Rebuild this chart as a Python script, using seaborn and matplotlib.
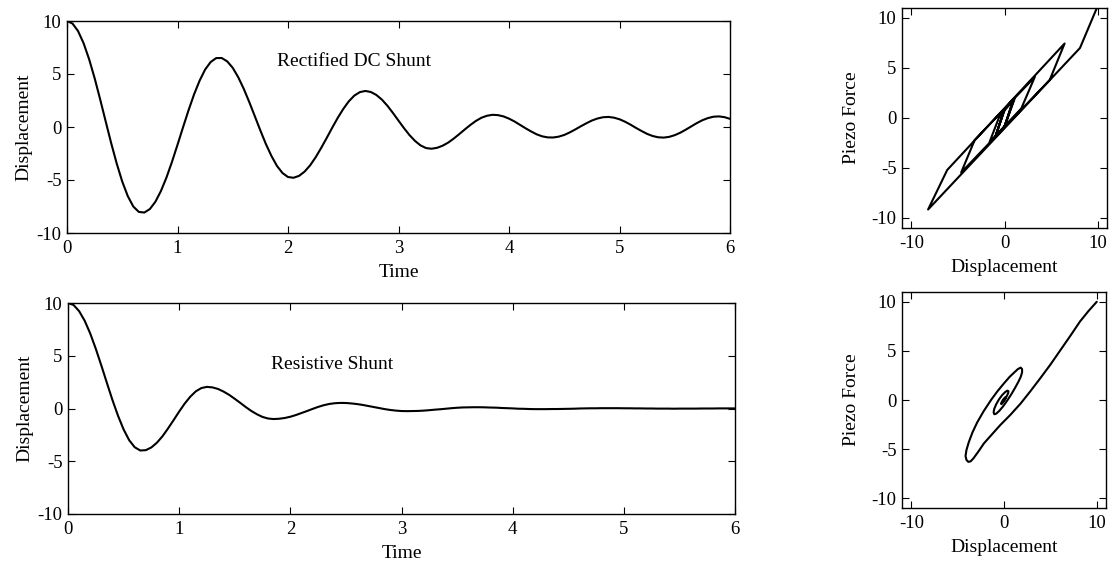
import numpy as np
import pandas as pd
import matplotlib
matplotlib.use("Agg")
import matplotlib.pyplot as plt
import seaborn as sns

# ---- data ----
time = np.round(np.arange(121) * 0.05, 2)

disp_rectified = [
    10.00, 9.76, 9.05, 7.91, 6.40, 4.61, 2.61, 0.53, -1.53, -3.45,
    -5.15, -6.52, -7.50, -8.01, -8.07, -7.74, -7.05, -6.04, -4.77, -3.29,
    -1.68, -0.03, 1.58, 3.08, 4.37, 5.42, 6.13, 6.50, 6.51, 6.19,
    5.58, 4.69, 3.59, 2.34, 1.01, -0.33, -1.61, -2.73, -3.67, -4.34,
    -4.72, -4.79, -4.61, -4.21, -3.62, -2.86, -1.98, -1.04, -0.07, 0.86,
    1.70, 2.42, 2.96, 3.29, 3.40, 3.30, 3.02, 2.58, 2.00, 1.32,
    0.60, -0.11, -0.77, -1.32, -1.74, -1.99, -2.05, -1.96, -1.76, -1.47,
    -1.09, -0.67, -0.23, 0.19, 0.57, 0.87, 1.06, 1.15, 1.12, 1.00,
    0.79, 0.52, 0.20, -0.12, -0.42, -0.69, -0.88, -0.98, -0.99, -0.91,
    -0.75, -0.51, -0.23, 0.07, 0.35, 0.61, 0.80, 0.92, 0.95, 0.88,
    0.73, 0.50, 0.22, -0.09, -0.38, -0.65, -0.85, -0.97, -1.00, -0.93,
    -0.77, -0.54, -0.25, 0.06, 0.37, 0.64, 0.84, 0.97, 1.00, 0.93,
    0.77,
]

disp_resistive = [
    10.00, 9.81, 9.23, 8.32, 7.11, 5.66, 4.07, 2.42, 0.80, -0.69,
    -1.98, -3.00, -3.67, -3.98, -3.95, -3.69, -3.24, -2.63, -1.89, -1.10,
    -0.29, 0.47, 1.12, 1.63, 1.94, 2.05, 2.00, 1.85, 1.60, 1.29,
    0.92, 0.53, 0.13, -0.24, -0.55, -0.80, -0.95, -1.00, -0.97, -0.90,
    -0.78, -0.62, -0.43, -0.24, -0.04, 0.15, 0.31, 0.43, 0.50, 0.53,
    0.52, 0.48, 0.42, 0.34, 0.24, 0.14, 0.04, -0.06, -0.14, -0.20,
    -0.24, -0.25, -0.24, -0.23, -0.20, -0.16, -0.11, -0.07, -0.02, 0.03,
    0.07, 0.10, 0.11, 0.12, 0.12, 0.11, 0.09, 0.08, 0.05, 0.03,
    0.01, -0.02, -0.03, -0.05, -0.06, -0.06, -0.06, -0.05, -0.05, -0.04,
    -0.03, -0.02, 0.00, 0.01, 0.02, 0.02, 0.03, 0.03, 0.03, 0.03,
    0.02, 0.02, 0.01, 0.01, 0.00, 0.00, -0.01, -0.01, -0.01, -0.02,
    -0.01, -0.01, -0.01, -0.01, 0.00, 0.00, 0.00, 0.01, 0.01, 0.01,
    0.01,
]

rect_loop_disp = [10.0, 8.1, -8.2, -6.15, 6.45, 4.85, -4.65, -3.2, 3.25, 1.8,
                  -1.6, -0.55, 1.1, 0.0, -1.0, 0.0, 1.0, 0.0, -1.0, 0.05,
                  0.95, 0.0, -0.95, 0.0, 1.0, 0.0]
rect_loop_force = [11.2, 7.0, -9.15, -5.2, 7.45, 3.8, -5.45, -2.2, 4.1, 0.95,
                   -2.4, 0.15, 1.95, -0.85, -1.9, 0.9, 1.9, -0.9, -1.9, 0.9,
                   1.85, -0.85, -1.85, 0.9, 1.9, -0.9]

res_loop_disp = [10.0, 9.1, 8.2, 7.2, 6.1, 5.0, 3.9, 2.85, 1.8, 0.7,
                 -0.4, -1.3, -2.15, -2.8, -3.3, -3.6, -3.85, -4.05, -4.15, -4.05,
                 -3.8, -3.4, -2.9, -2.2, -1.4, -0.7, 0.0, 0.6, 1.1, 1.5,
                 1.8, 1.95, 1.95, 1.8, 1.55, 1.2, 0.8, 0.35, -0.1, -0.5,
                 -0.85, -1.05, -1.12, -1.05, -0.85, -0.55, -0.2, 0.12, 0.35, 0.48,
                 0.45, 0.3, 0.08, -0.12, -0.27, -0.32, -0.25, -0.08, 0.1, 0.2,
                 0.18, 0.06, -0.06, -0.1, -0.04, 0.0]
res_loop_force = [10.0, 9.05, 8.0, 6.6, 5.1, 3.6, 2.2, 0.9, -0.35, -1.5,
                  -2.55, -3.5, -4.4, -5.3, -5.95, -6.25, -6.3, -6.1, -5.7, -5.1,
                  -4.3, -3.3, -2.3, -1.15, 0.0, 0.9, 1.7, 2.35, 2.8, 3.15,
                  3.3, 3.15, 2.8, 2.35, 1.85, 1.25, 0.6, -0.05, -0.65, -1.1,
                  -1.4, -1.45, -1.25, -0.9, -0.45, 0.05, 0.5, 0.8, 0.95, 0.9,
                  0.7, 0.4, 0.05, -0.25, -0.42, -0.38, -0.2, 0.05, 0.25, 0.3,
                  0.18, 0.02, -0.1, -0.1, -0.02, 0.0]

panel_labels = ["Rectified DC Shunt", "Resistive Shunt"]
time_ticks = [0, 1, 2, 3, 4, 5, 6]
disp_ticks = [-10, -5, 0, 5, 10]
loop_xticks = [-10, 0, 10]

# ---- style ----
sns.set_style("ticks")
plt.rcParams.update({
    "xtick.direction": "in",
    "ytick.direction": "in",
    "xtick.top": True,
    "ytick.right": True,
    "xtick.major.size": 5,
    "ytick.major.size": 5,
    "xtick.major.width": 0.8,
    "ytick.major.width": 0.8,
    "xtick.major.pad": 5,
    "ytick.major.pad": 4,
    "axes.linewidth": 1.0,
    "axes.edgecolor": "black",
    "xtick.color": "black",
    "ytick.color": "black",
    "text.color": "black",
    "axes.labelcolor": "black",
})
plt.rcParams["font.family"] = ["Liberation Serif", "DejaVu Serif"]

TICK_FS = 13.5
LABEL_FS = 14
LW = 1.5

fig = plt.figure(figsize=(11.10, 5.66), dpi=100)
W, H = 1110.0, 566.0


def axes_px(x0, y0, x1, y1):
    return fig.add_axes([x0 / W, 1 - y1 / H, (x1 - x0) / W, (y1 - y0) / H])


ax_tl = axes_px(67, 21, 730, 233)
ax_bl = axes_px(68, 303, 735, 514)
ax_tr = axes_px(902, 8, 1107, 228)
ax_br = axes_px(902, 292, 1106, 508)

df_rect = pd.DataFrame({"Time": time, "Displacement": disp_rectified})
df_res = pd.DataFrame({"Time": time, "Displacement": disp_resistive})

for ax, df, lab, lpos in [(ax_tl, df_rect, panel_labels[0], (1.9, 6.2)),
                          (ax_bl, df_res, panel_labels[1], (1.83, 4.2))]:
    sns.lineplot(data=df, x="Time", y="Displacement", color="black", lw=LW,
                 estimator=None, ax=ax)
    ax.set_xlim(0, 6)
    ax.set_ylim(-10, 10)
    ax.set_xticks(time_ticks)
    ax.set_yticks(disp_ticks)
    ax.set_xticklabels([str(v) for v in time_ticks], fontsize=TICK_FS)
    ax.set_yticklabels([str(v) for v in disp_ticks], fontsize=TICK_FS)
    ax.set_xlabel("Time", fontsize=LABEL_FS, labelpad=5)
    ax.set_ylabel("Displacement", fontsize=LABEL_FS, labelpad=3)
    ax.text(lpos[0], lpos[1], lab, fontsize=LABEL_FS, ha="left", va="center")

df_rl = pd.DataFrame({"Displacement": rect_loop_disp, "Piezo Force": rect_loop_force})
df_sl = pd.DataFrame({"Displacement": res_loop_disp, "Piezo Force": res_loop_force})

for ax, df in [(ax_tr, df_rl), (ax_br, df_sl)]:
    sns.lineplot(data=df, x="Displacement", y="Piezo Force", sort=False,
                 estimator=None, color="black", lw=LW, ax=ax)
    ax.set_xlim(-11, 11)
    ax.set_ylim(-11, 11)
    ax.set_xticks(loop_xticks)
    ax.set_yticks(disp_ticks)
    ax.set_xticklabels([str(v) for v in loop_xticks], fontsize=TICK_FS)
    ax.set_yticklabels([str(v) for v in disp_ticks], fontsize=TICK_FS)
    ax.set_xlabel("Displacement", fontsize=LABEL_FS, labelpad=5)
    ax.set_ylabel("Piezo Force", fontsize=LABEL_FS, labelpad=8)

for ax in [ax_tl, ax_bl, ax_tr, ax_br]:
    for s in ax.spines.values():
        s.set_visible(True)
        s.set_color("black")

fig.savefig("out.png", dpi=100, facecolor="white")
